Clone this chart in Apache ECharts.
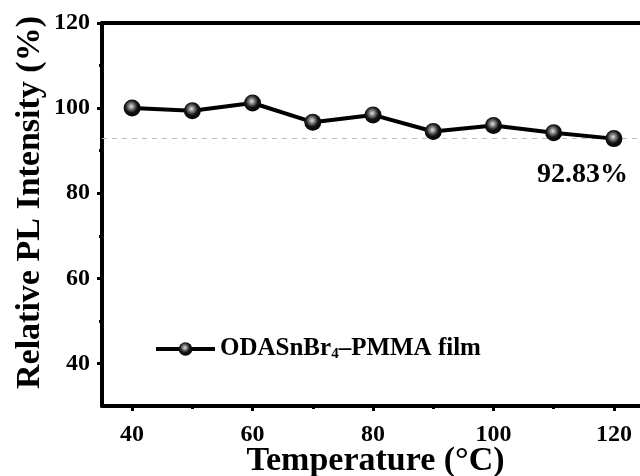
<!DOCTYPE html>
<html>
<head>
<meta charset="utf-8">
<script src="https://cdn.jsdelivr.net/npm/echarts@6/dist/echarts.min.js"></script>
<style>html,body{margin:0;padding:0;background:#fff;}#c{width:640px;height:476px;}</style>
</head>
<body>
<div id="c"></div>
<script>
const temperature = [40, 50, 60, 70, 80, 90, 100, 110, 120];
const intensity = [100.0, 99.4, 101.2, 96.7, 98.4, 94.5, 95.9, 94.2, 92.83];
const xMajorTicks = [40, 60, 80, 100, 120];
const xMinorTicks = [50, 70, 90, 110];
const yMajorTicks = [40, 60, 80, 100, 120];
const yMinorTicks = [50, 70, 90, 110];
const retentionLevel = 92.83;
const seriesName = 'ODASnBr4–PMMA film';

const FONT = "'Liberation Serif', 'Times New Roman', serif";
const X_MIN = 35, X_MAX = 125, Y_MIN = 30, Y_MAX = 120;

const chart = echarts.init(document.getElementById('c'), null, {renderer: 'canvas'});
const axisLineStyle = {color: '#000', width: 4};
const baseX = {type: 'value', min: X_MIN, max: X_MAX, splitLine: {show: false}};
const baseY = {type: 'value', min: Y_MIN, max: Y_MAX, splitLine: {show: false}};

chart.setOption({
  animation: false,
  backgroundColor: '#fff',
  grid: {left: 102, top: 23, width: 542, bottom: 70, containLabel: false, outerBoundsMode: 'none'},
  legend: {
    left: 154, top: 336, padding: 0,
    itemWidth: 59, itemHeight: 17,
    data: [seriesName],
    lineStyle: {width: 4, color: '#000'},
    formatter: () => '{a|ODASnBr}{s|4}{a|–PMMA film}',
    textStyle: {
      rich: {
        a: {fontFamily: FONT, fontWeight: 'bold', fontSize: 25, color: '#000', lineHeight: 28},
        s: {fontFamily: FONT, fontWeight: 'bold', fontSize: 15, color: '#000', lineHeight: 17, padding: [11, 0, 0, 0]}
      }
    }
  },
  xAxis: [
    Object.assign({}, baseX, {
      position: 'bottom',
      name: 'Temperature (°C)', nameLocation: 'middle', nameGap: 38, nameMoveOverlap: false,
      nameTextStyle: {fontFamily: FONT, fontWeight: 'bold', fontSize: 34, color: '#000', padding: [0, 0, 0, 5]},
      axisLine: {show: true, onZero: false, lineStyle: axisLineStyle},
      axisTick: {show: true, inside: false, length: 5, customValues: xMajorTicks, lineStyle: {color: '#000', width: 3}},
      axisLabel: {show: true, margin: 17, customValues: xMajorTicks, fontFamily: FONT, fontWeight: 'bold', fontSize: 24, color: '#000'}
    }),
    Object.assign({}, baseX, {
      position: 'bottom',
      axisLine: {show: false, onZero: false},
      axisTick: {show: true, inside: false, length: 3, customValues: xMinorTicks, lineStyle: {color: '#000', width: 3}},
      axisLabel: {show: false}
    }),
    Object.assign({}, baseX, {
      position: 'top',
      axisLine: {show: true, onZero: false, lineStyle: axisLineStyle},
      axisTick: {show: false},
      axisLabel: {show: false}
    })
  ],
  yAxis: [
    Object.assign({}, baseY, {
      position: 'left',
      name: 'Relative PL Intensity (%)', nameLocation: 'middle', nameGap: 55, nameMoveOverlap: false,
      nameTextStyle: {fontFamily: FONT, fontWeight: 'bold', fontSize: 34, color: '#000', padding: [0, 0, 0, 24]},
      axisLine: {show: true, onZero: false, lineStyle: axisLineStyle},
      axisTick: {show: true, inside: false, length: 5, customValues: yMajorTicks, lineStyle: {color: '#000', width: 3}},
      axisLabel: {show: true, margin: 12, customValues: yMajorTicks, fontFamily: FONT, fontWeight: 'bold', fontSize: 24, color: '#000'}
    }),
    Object.assign({}, baseY, {
      position: 'left',
      axisLine: {show: false, onZero: false},
      axisTick: {show: true, inside: false, length: 3, customValues: yMinorTicks, lineStyle: {color: '#000', width: 3}},
      axisLabel: {show: false}
    })
  ],
  series: [{
    name: seriesName,
    type: 'line',
    xAxisIndex: 0, yAxisIndex: 0,
    data: temperature.map((t, i) => [t, intensity[i]]),
    symbol: 'circle', symbolSize: 17,
    lineStyle: {color: '#000', width: 4},
    itemStyle: {
      color: new echarts.graphic.RadialGradient(0.45, 0.4, 0.6, [
        {offset: 0, color: '#e6e6e6'},
        {offset: 0.25, color: '#8a8a8a'},
        {offset: 0.6, color: '#151515'},
        {offset: 1, color: '#000'}
      ]),
      borderWidth: 0
    },
    z: 5,
    markLine: {
      silent: true, symbol: ['none', 'none'],
      lineStyle: {color: '#bdbdbd', type: [5, 5], width: 1},
      label: {
        show: true, position: 'insideEndBottom', distance: [16, 22],
        formatter: () => retentionLevel.toFixed(2) + '%',
        fontFamily: FONT, fontWeight: 'bold', fontSize: 28, color: '#000'
      },
      data: [{yAxis: retentionLevel}]
    }
  }]
});
</script>
</body>
</html>
